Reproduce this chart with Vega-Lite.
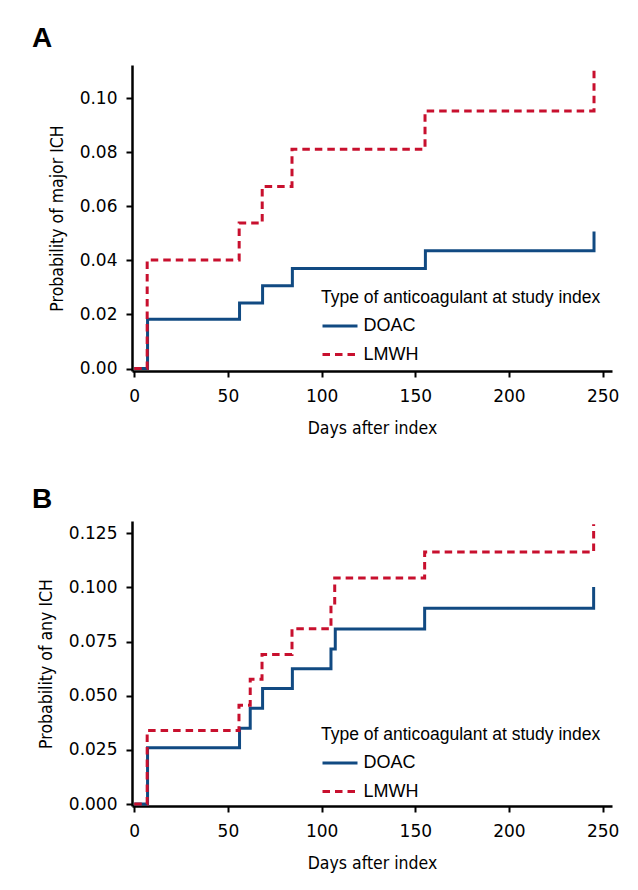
{
  "$schema": "https://vega.github.io/schema/vega-lite/v6.json",
  "padding": {"left": 32, "top": 24, "right": 5, "bottom": 5},
  "background": "white",
  "spacing": 49,
  "datasets": {
    "panelA": [
      {"anticoagulant": "DOAC", "day": 0, "prob": 0},
      {"anticoagulant": "DOAC", "day": 7.1, "prob": 0.0182},
      {"anticoagulant": "DOAC", "day": 56.2, "prob": 0.0242},
      {"anticoagulant": "DOAC", "day": 68.5, "prob": 0.0306},
      {"anticoagulant": "DOAC", "day": 84.4, "prob": 0.037},
      {"anticoagulant": "DOAC", "day": 155.4, "prob": 0.0435},
      {"anticoagulant": "DOAC", "day": 245.4, "prob": 0.0507},
      {"anticoagulant": "LMWH", "day": 0, "prob": 0},
      {"anticoagulant": "LMWH", "day": 6.9, "prob": 0.0401},
      {"anticoagulant": "LMWH", "day": 56.0, "prob": 0.0538},
      {"anticoagulant": "LMWH", "day": 68.3, "prob": 0.0673},
      {"anticoagulant": "LMWH", "day": 84.2, "prob": 0.0811},
      {"anticoagulant": "LMWH", "day": 155.2, "prob": 0.0952},
      {"anticoagulant": "LMWH", "day": 245.4, "prob": 0.1105}
    ],
    "panelB": [
      {"anticoagulant": "DOAC", "day": 0, "prob": 0},
      {"anticoagulant": "DOAC", "day": 7.1, "prob": 0.026},
      {"anticoagulant": "DOAC", "day": 56.2, "prob": 0.035},
      {"anticoagulant": "DOAC", "day": 61.9, "prob": 0.0442},
      {"anticoagulant": "DOAC", "day": 68.5, "prob": 0.0533},
      {"anticoagulant": "DOAC", "day": 84.4, "prob": 0.0625},
      {"anticoagulant": "DOAC", "day": 105.0, "prob": 0.0716},
      {"anticoagulant": "DOAC", "day": 107.3, "prob": 0.0808},
      {"anticoagulant": "DOAC", "day": 155.0, "prob": 0.0904},
      {"anticoagulant": "DOAC", "day": 245.2, "prob": 0.1002},
      {"anticoagulant": "LMWH", "day": 0, "prob": 0},
      {"anticoagulant": "LMWH", "day": 6.9, "prob": 0.034},
      {"anticoagulant": "LMWH", "day": 55.9, "prob": 0.0456},
      {"anticoagulant": "LMWH", "day": 61.9, "prob": 0.0576},
      {"anticoagulant": "LMWH", "day": 68.2, "prob": 0.0691},
      {"anticoagulant": "LMWH", "day": 84.2, "prob": 0.081},
      {"anticoagulant": "LMWH", "day": 105.0, "prob": 0.0918},
      {"anticoagulant": "LMWH", "day": 107.0, "prob": 0.1044},
      {"anticoagulant": "LMWH", "day": 155.0, "prob": 0.1164},
      {"anticoagulant": "LMWH", "day": 245.2, "prob": 0.1292}
    ]
  },
  "vconcat": [
    {
      "width": 480,
      "height": 306,
      "data": {"name": "panelA"},
      "title": {"text": "A", "anchor": "start", "frame": "group", "dx": -100, "offset": 11},
      "mark": {"type": "line", "interpolate": "step-after", "strokeWidth": 3},
      "encoding": {
        "x": {"field": "day", "type": "quantitative", "title": "Days after index",
              "scale": {"domain": [-1.2, 255], "nice": false, "zero": false},
              "axis": {"values": [0, 50, 100, 150, 200, 250]}},
        "y": {"field": "prob", "type": "quantitative", "title": "Probability of major ICH",
              "scale": {"domain": [-0.0009, 0.1122], "nice": false, "zero": false},
              "axis": {"values": [0, 0.02, 0.04, 0.06, 0.08, 0.1], "format": ".2f"}},
        "color": {"field": "anticoagulant", "type": "nominal", "title": "Type of anticoagulant at study index",
                  "scale": {"domain": ["DOAC", "LMWH"], "range": ["#114a82", "#c8102e"]},
                  "legend": {"orient": "none", "legendX": 189, "legendY": 224}},
        "strokeDash": {"field": "anticoagulant", "type": "nominal", "title": "Type of anticoagulant at study index",
                  "scale": {"domain": ["DOAC", "LMWH"], "range": [[1, 0], [7.5, 5]]},
                  "legend": {"orient": "none", "legendX": 189, "legendY": 224}}
      }
    },
    {
      "width": 480,
      "height": 285,
      "data": {"name": "panelB"},
      "title": {"text": "B", "anchor": "start", "frame": "group", "dx": -100, "offset": 4},
      "mark": {"type": "line", "interpolate": "step-after", "strokeWidth": 3},
      "encoding": {
        "x": {"field": "day", "type": "quantitative", "title": "Days after index",
              "scale": {"domain": [-1.2, 255], "nice": false, "zero": false},
              "axis": {"values": [0, 50, 100, 150, 200, 250]}},
        "y": {"field": "prob", "type": "quantitative", "title": "Probability of any ICH",
              "scale": {"domain": [-0.0009, 0.1307], "nice": false, "zero": false},
              "axis": {"values": [0, 0.025, 0.05, 0.075, 0.1, 0.125], "format": ".3f"}},
        "color": {"field": "anticoagulant", "type": "nominal", "title": "Type of anticoagulant at study index",
                  "scale": {"domain": ["DOAC", "LMWH"], "range": ["#114a82", "#c8102e"]},
                  "legend": {"orient": "none", "legendX": 189, "legendY": 205}},
        "strokeDash": {"field": "anticoagulant", "type": "nominal", "title": "Type of anticoagulant at study index",
                  "scale": {"domain": ["DOAC", "LMWH"], "range": [[1, 0], [7.5, 5]]},
                  "legend": {"orient": "none", "legendX": 189, "legendY": 205}}
      }
    }
  ],
  "resolve": {"scale": {"color": "independent", "strokeDash": "independent", "y": "independent"}, "legend": {"color": "independent", "strokeDash": "independent"}},
  "config": {
    "view": {"stroke": null},
    "title": {"font": "Liberation Sans", "fontSize": 28, "fontWeight": "bold", "color": "black"},
    "axis": {
      "grid": false,
      "domainColor": "black", "domainWidth": 2.5,
      "tickColor": "black", "tickWidth": 2, "tickSize": 6,
      "labelColor": "black", "labelFont": "DejaVu Sans", "labelFontSize": 17,
      "titleColor": "black", "titleFont": "DejaVu Sans Condensed, Liberation Sans Narrow, Liberation Sans", "titleFontSize": 17.5, "titleFontWeight": "normal"
    },
    "axisX": {"labelPadding": 11, "titlePadding": 15},
    "axisY": {"labelPadding": 9, "titlePadding": 13},
    "legend": {
      "titleFont": "Liberation Sans", "titleFontSize": 17.5, "titleFontWeight": "normal", "titleColor": "black",
      "labelFont": "Liberation Sans", "labelFontSize": 18, "labelColor": "black",
      "symbolType": "M-1.75,0H1.75", "symbolSize": 400, "symbolStrokeWidth": 3, "symbolOffset": 7.5,
      "labelOffset": 12, "rowPadding": 7.5, "titlePadding": 8, "titleLimit": 400
    }
  }
}
